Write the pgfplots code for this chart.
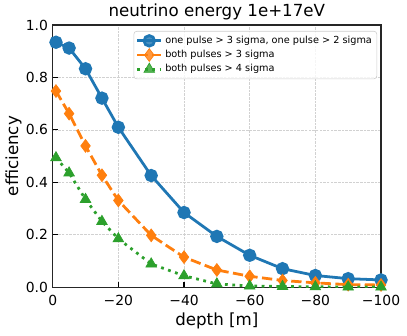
\documentclass[border=0pt]{standalone}
\usepackage{fontspec}
\setmainfont{DejaVu Sans}
\usepackage{pgfplots}
\pgfplotsset{compat=1.18}
\definecolor{c0}{HTML}{1F77B4}
\definecolor{c1}{HTML}{FF7F0E}
\definecolor{c2}{HTML}{2CA02C}
\begin{document}
\begin{tikzpicture}
\path[use as bounding box] (0,0) rectangle (293.04pt,241.92pt);
\begin{axis}[
    at={(37.94pt,35.06pt)}, anchor=south west,
    scale only axis, width=236.4pt, height=188.9pt,
    xmin=-100, xmax=0, ymin=0, ymax=1,
    x dir=reverse,
    xtick={0,-20,-40,-60,-80,-100},
    xticklabels={0,−20,−40,−60,−80,−100},
    ytick={0,0.2,0.4,0.6,0.8,1.0},
    yticklabels={0.0,0.2,0.4,0.6,0.8,1.0},
    tick pos=left, tick align=inside,
    major tick length=3.5pt,
    tick style={black, line width=0.8pt},
    axis line style={black!85, line width=0.8pt},
    ticklabel style={font=\fontsize{10}{12}\selectfont, inner sep=0pt},
    xticklabel style={anchor=north, yshift=-5.3pt},
    yticklabel style={anchor=east, xshift=-3.2pt},
    grid=major, grid style={black!18, line width=0.5pt, dash pattern=on 1.85pt off 0.8pt},
    title={neutrino energy 1e+17eV},
    every axis title/.style={at={(axis description cs:0.5,1)}, anchor=south, inner sep=0pt, yshift=3.6pt, font=\fontsize{12}{14}\selectfont},
    xlabel={depth [m]},
    xlabel style={at={(axis description cs:0.5,-0.098)}, anchor=north, inner sep=0pt, font=\fontsize{12}{14}\selectfont},
    ylabel={efficiency},
    ylabel style={at={(axis description cs:-0.0935,0.5)}, anchor=south, inner sep=0pt, font=\fontsize{12}{14}\selectfont},
    legend style={at={(axis description cs:0.988,0.977)}, anchor=north east,
        draw=black!20, rounded corners=2pt, fill=white, fill opacity=0.8, text opacity=1,
        font=\fontsize{7}{8.4}\selectfont, row sep=-0.6pt, inner sep=1.5pt},
    legend cell align=left,
    clip mode=individual,
]
\addplot[c0, line width=2pt, mark=*, mark size=3.8pt, mark options={solid, fill=c0, draw=c0}] coordinates {
(-1,0.934)(-5,0.912)(-10,0.833)(-15,0.721)(-20,0.610)(-30,0.426)(-40,0.285)(-50,0.194)(-60,0.122)(-70,0.071)(-80,0.045)(-90,0.033)(-100,0.028)};
\addlegendentry{one pulse > 3 sigma, one pulse > 2 sigma}
\addplot[c1, line width=2pt, dash pattern=on 7.4pt off 3.2pt, mark=diamond*, mark size=4.6pt, mark options={solid, fill=c1, draw=c1, line width=0.5pt}] coordinates {
(-1,0.748)(-5,0.662)(-10,0.539)(-15,0.427)(-20,0.331)(-30,0.198)(-40,0.115)(-50,0.066)(-60,0.042)(-70,0.026)(-80,0.017)(-90,0.010)(-100,0.009)};
\addlegendentry{both pulses > 3 sigma}
\addplot[c2, line width=2pt, dash pattern=on 2pt off 3.3pt, mark=triangle*, mark size=4.4pt, mark options={solid, fill=c2, draw=c2, line width=0.5pt}] coordinates {
(-1,0.494)(-5,0.436)(-10,0.335)(-15,0.251)(-20,0.185)(-30,0.089)(-40,0.044)(-50,0.013)(-60,0.005)(-70,0.003)(-80,0.002)(-90,0.001)(-100,0.001)};
\addlegendentry{both pulses > 4 sigma}
\end{axis}
\end{tikzpicture}
\end{document}
